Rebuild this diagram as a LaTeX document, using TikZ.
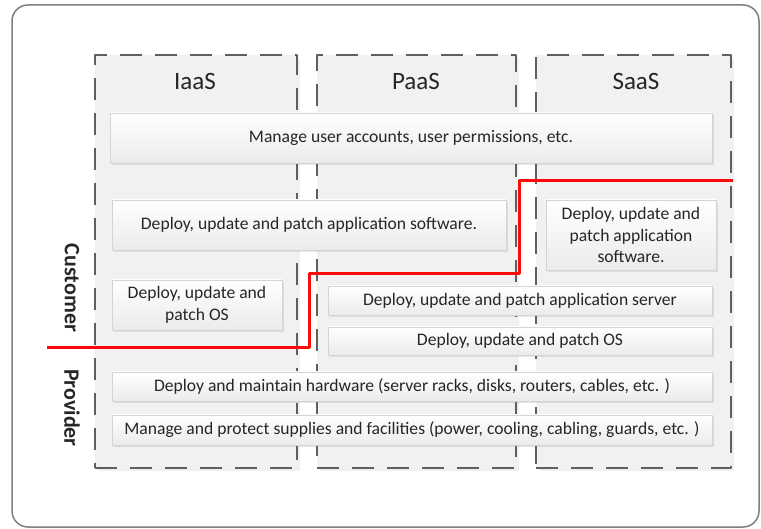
\documentclass[tikz,border=0pt]{standalone}
\usepackage{fontspec}
\setmainfont{Carlito}
\usepackage{xcolor}
\usetikzlibrary{shadows}
\definecolor{framegray}{HTML}{808080}
\definecolor{dashgray}{HTML}{5F5F5F}
\definecolor{colfill}{HTML}{F1F1F1}
\definecolor{boxline}{HTML}{D4D4D4}
\definecolor{boxbottom}{HTML}{EBEBEB}
\definecolor{splitred}{HTML}{FF0A0A}

\tikzset{
  column/.style={draw=dashgray,fill=colfill,line width=1.6pt,
    dash pattern=on 22pt off 13pt,
    drop shadow={shadow xshift=3pt,shadow yshift=-3pt,opacity=0.12,fill=gray}},
  task/.style={draw=boxline,line width=0.6pt,top color=white,bottom color=boxbottom,
    inner sep=2pt,align=center,font=\fontsize{17.6}{21.5}\selectfont,text=black!85,
    drop shadow={shadow xshift=2pt,shadow yshift=-2pt,opacity=0.18,fill=gray}},
  coltitle/.style={font=\fontsize{25}{28}\selectfont,text=black!85},
  side/.style={font=\bfseries\fontsize{22}{24}\selectfont,rotate=-90,text=black!85}
}

\begin{document}
\begin{tikzpicture}[x=1pt,y=-1pt,line join=round]
  \useasboundingbox (0,0) rectangle (761,529);
  % outer frame
  \draw[framegray,line width=1.5pt,rounded corners=16pt] (12,5) rectangle (759,527);

  % service columns
  \node[column,minimum width=202pt,minimum height=413pt] (iaas) at (196,261.5) {};
  \node[column,minimum width=199pt,minimum height=413pt] (paas) at (416.5,261.5) {};
  \node[column,minimum width=195pt,minimum height=413pt] (saas) at (633.5,261.5) {};
  \node[coltitle] (iaastitle) at (195,81) {IaaS};
  \node[coltitle] (paastitle) at (416,81) {PaaS};
  \node[coltitle] (saastitle) at (636,81) {SaaS};

  % tasks
  \node[task,minimum width=602pt,minimum height=50pt] (accounts) at (411,138)
    {Manage user accounts, user permissions, etc.};
  \node[task,minimum width=394pt,minimum height=50pt] (appsw) at (309,225)
    {Deploy, update and patch application software.};
  \node[task,minimum width=170pt,minimum height=70pt] (saasapp) at (631,235)
    {Deploy, update and\\patch application\\software.};
  \node[task,minimum width=170pt,minimum height=50pt] (iaasos) at (197,305)
    {Deploy, update and\\patch OS};
  \node[task,minimum width=384pt,minimum height=29pt] (appserver) at (520,300.5)
    {Deploy, update and patch application server};
  \node[task,minimum width=384pt,minimum height=28pt] (paasos) at (520,341)
    {Deploy, update and patch OS};
  \node[task,minimum width=600pt,minimum height=29pt] (hardware) at (412,386.5)
    {Deploy and maintain hardware (server racks, disks, routers, cables, etc. )};
  \node[task,minimum width=600pt,minimum height=30pt] (facilities) at (412,430)
    {Manage and protect supplies and facilities (power, cooling, cabling, guards, etc. )};

  % who is responsible
  \node[side] (customer) at (72,288) {Customer};
  \node[side] (provider) at (72,408) {Provider};

  % split line
  \coordinate (S0) at (47,348);
  \coordinate (S1) at (309,348);
  \coordinate (S2) at (309,274);
  \coordinate (S3) at (519,274);
  \coordinate (S4) at (519,181);
  \coordinate (S5) at (733,181);
  \draw[splitred,line width=3pt] (S0) -- (S1) -- (S2) -- (S3) -- (S4) -- (S5);
\end{tikzpicture}
\end{document}
